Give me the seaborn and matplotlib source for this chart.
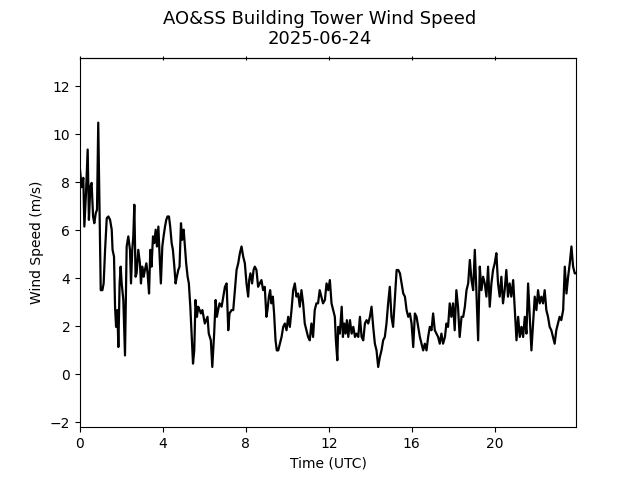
import matplotlib
matplotlib.use("Agg")
import matplotlib.pyplot as plt
import seaborn as sns
import pandas as pd

hours = [
    0.00, 0.08, 0.16, 0.21, 0.29, 0.37, 0.43, 0.50, 0.56, 0.63, 0.69, 0.76, 0.82, 0.88, 0.95,
    1.00, 1.08, 1.14, 1.21, 1.29, 1.37, 1.45, 1.53, 1.57, 1.64, 1.69, 1.74, 1.80, 1.85, 1.91,
    1.96, 2.01, 2.09, 2.17, 2.25, 2.33, 2.41, 2.46, 2.52, 2.57, 2.62, 2.68, 2.73, 2.81, 2.89,
    2.94, 3.00, 3.07, 3.13, 3.20, 3.26, 3.33, 3.39, 3.45, 3.52, 3.58, 3.65, 3.71, 3.78, 3.84,
    3.90, 3.97, 4.03, 4.10, 4.16, 4.22, 4.29, 4.35, 4.42, 4.48, 4.55, 4.61, 4.67, 4.74, 4.80,
    4.87, 4.93, 5.00, 5.06, 5.12, 5.19, 5.25, 5.32, 5.38, 5.45, 5.51, 5.57, 5.64, 5.70, 5.77,
    5.83, 5.90, 5.96, 6.02,
    6.15, 6.21, 6.31, 6.38, 6.47, 6.54, 6.60, 6.66, 6.73, 6.83, 6.91, 6.99, 7.07, 7.15, 7.21,
    7.31, 7.39, 7.47, 7.55, 7.63, 7.71, 7.79, 7.87, 7.95, 8.03, 8.11, 8.16, 8.22, 8.30, 8.37,
    8.43, 8.51, 8.59, 8.67, 8.75, 8.83, 8.91, 8.99, 9.04, 9.11, 9.17, 9.23, 9.30, 9.36, 9.43,
    9.49, 9.56, 9.64, 9.72, 9.80, 9.88, 9.96, 10.04, 10.12, 10.20, 10.28, 10.36, 10.44, 10.52,
    10.60, 10.68, 10.76, 10.84, 10.92, 11.00, 11.08, 11.16, 11.24, 11.32, 11.40, 11.48, 11.56,
    11.64, 11.72, 11.81,
    11.89, 11.97, 12.05, 12.13, 12.21, 12.29, 12.34, 12.41, 12.45, 12.53, 12.62, 12.68, 12.74,
    12.81, 12.87, 12.94, 13.02, 13.10, 13.18, 13.26, 13.34, 13.42, 13.50, 13.58, 13.66, 13.74,
    13.82, 13.90, 13.98, 14.06, 14.14, 14.22, 14.30, 14.38, 14.46, 14.54, 14.62, 14.70, 14.78,
    14.86, 14.94, 15.02, 15.10, 15.19, 15.27, 15.35, 15.43, 15.51, 15.59, 15.67, 15.75, 15.83,
    15.91, 15.99, 16.07, 16.15, 16.23, 16.31, 16.39, 16.47, 16.55, 16.63, 16.71, 16.79, 16.87,
    16.95, 17.03, 17.11, 17.19, 17.27, 17.35, 17.43, 17.51, 17.60,
    17.67, 17.75, 17.83, 17.91, 17.99, 18.07, 18.15, 18.23, 18.31, 18.40, 18.48, 18.56, 18.64,
    18.72, 18.80, 18.88, 18.96, 19.04, 19.12, 19.20, 19.28, 19.36, 19.44, 19.52, 19.60, 19.68,
    19.76, 19.84, 19.92, 20.00, 20.08, 20.16, 20.24, 20.32, 20.40, 20.48, 20.56, 20.64, 20.72,
    20.80, 20.89, 20.97, 21.05, 21.13, 21.21, 21.29, 21.37, 21.45, 21.53, 21.61, 21.69, 21.77,
    21.85, 21.93, 22.01, 22.09, 22.17, 22.25, 22.33, 22.41, 22.49, 22.57, 22.65, 22.73, 22.81,
    22.89, 22.97, 23.05, 23.13, 23.21, 23.30, 23.38, 23.46, 23.54, 23.62, 23.70, 23.78, 23.86,
    23.92,
]

wind_speed = [
    8.54, 7.80, 8.19, 6.16, 7.56, 9.37, 6.44, 7.84, 7.98, 6.58, 6.30, 6.72, 6.86, 10.49, 6.58,
    3.51, 3.51, 3.79, 5.19, 6.51, 6.58, 6.44, 6.03, 5.19, 4.91, 2.82, 1.98, 2.68, 1.14, 3.79,
    4.49, 3.79, 3.10, 0.79, 5.33, 5.75, 5.19, 3.79, 5.19, 5.75, 7.07, 4.07, 4.21, 5.19, 4.63,
    3.79, 4.49, 4.07, 4.35, 4.63, 4.21, 3.37, 5.19, 4.49, 5.75, 5.47, 6.03, 5.33, 6.16, 4.91,
    3.79, 5.33, 5.75, 6.16, 6.44, 6.58, 6.58, 6.16, 5.47, 5.19, 4.49, 3.79, 4.07, 4.35, 4.49,
    6.30, 5.61, 6.03, 5.33, 4.63, 4.07, 3.79, 2.82, 1.70, 0.45, 1.00, 3.10, 2.40, 2.82, 2.68,
    2.54, 2.68, 2.40, 2.12,
    2.40, 1.70, 1.42, 0.31, 1.70, 3.10, 2.40, 2.68, 2.96, 2.82, 3.24, 3.65, 3.79, 1.84, 2.54,
    2.68, 2.68, 3.51, 4.35, 4.63, 5.05, 5.33, 4.91, 4.63, 3.79, 3.24, 3.93, 4.21, 3.79, 4.35,
    4.49, 4.35, 3.65, 3.79, 3.93, 3.51, 3.65, 2.40, 2.68, 3.24, 3.51, 2.96, 3.24, 2.54, 1.42,
    1.00, 1.00, 1.28, 1.56, 1.98, 2.12, 1.84, 2.40, 1.98, 2.68, 3.51, 3.79, 3.24, 3.37,
    2.82, 3.51, 2.96, 2.12, 1.84, 1.56, 1.42, 2.12, 1.56, 2.68, 2.96, 2.96, 3.51,
    3.24, 2.96, 3.10,
    3.79, 3.51, 3.93, 2.96, 2.68, 2.40, 1.42, 0.59, 1.98, 1.70, 2.82, 1.56, 2.12,
    1.70, 2.26, 1.56, 2.26, 1.70, 1.98, 1.56, 1.70, 1.56, 2.40, 1.56, 1.42, 2.12,
    2.26, 2.12, 2.40, 2.82, 1.98, 1.28, 1.00, 0.31, 0.72, 1.00, 1.42, 1.56, 2.12,
    2.96, 3.65, 2.40, 1.98, 3.24, 4.35, 4.35, 4.21, 3.79, 3.37, 3.24, 2.68, 2.40,
    2.54, 2.12, 1.14, 2.54, 2.40, 1.98, 1.56, 1.28, 1.00, 1.28, 1.00, 1.56, 1.98,
    1.84, 2.54, 1.84, 1.70, 1.56, 1.28, 1.70, 1.28, 1.56,
    2.12, 1.98, 2.96, 2.40, 2.96, 1.84, 3.51, 2.82, 1.56, 2.40, 2.40, 2.82, 3.51,
    3.79, 4.77, 3.93, 3.51, 5.19, 3.37, 1.42, 4.49, 3.51, 4.07, 3.79, 3.24, 4.49,
    2.82, 3.79, 4.35, 4.63, 5.05, 3.79, 3.24, 4.07, 2.96, 3.51, 4.35, 3.24, 3.79,
    3.24, 3.93, 2.68, 1.42, 2.40, 1.56, 1.98, 1.56, 2.40, 1.70, 3.79, 2.40, 1.00,
    2.12, 3.24, 2.68, 3.51, 2.96, 3.24, 2.96, 3.51, 2.68, 2.40, 1.98, 1.84, 1.56,
    1.28, 1.84, 2.12, 2.40, 2.26, 2.68, 4.49, 3.37, 4.07, 4.63, 5.33, 4.49, 4.21,
    4.21,
]

xticks = [0, 4, 8, 12, 16, 20]
yticks = [-2, 0, 2, 4, 6, 8, 10, 12]

df = pd.DataFrame({"hour": hours, "speed": wind_speed})

fig, ax = plt.subplots(figsize=(6.4, 4.8), dpi=100)
sns.lineplot(data=df, x="hour", y="speed", color="black", linewidth=1.6, ax=ax)

ax.set_xlim(0, hours[-1])
ax.set_ylim(-2.2, 13.2)
ax.set_xticks(xticks)
ax.set_yticks(yticks)
ax.set_xlabel("Time (UTC)")
ax.set_ylabel("Wind Speed (m/s)")

sec = ax.secondary_xaxis("top")
sec.set_xticks(xticks)
sec.set_xticklabels([])
sec.tick_params(direction="inout", length=3)

fig.suptitle("AO&SS Building Tower Wind Speed\n2025-06-24", fontsize=13)

fig.savefig("out.png", dpi=100)
